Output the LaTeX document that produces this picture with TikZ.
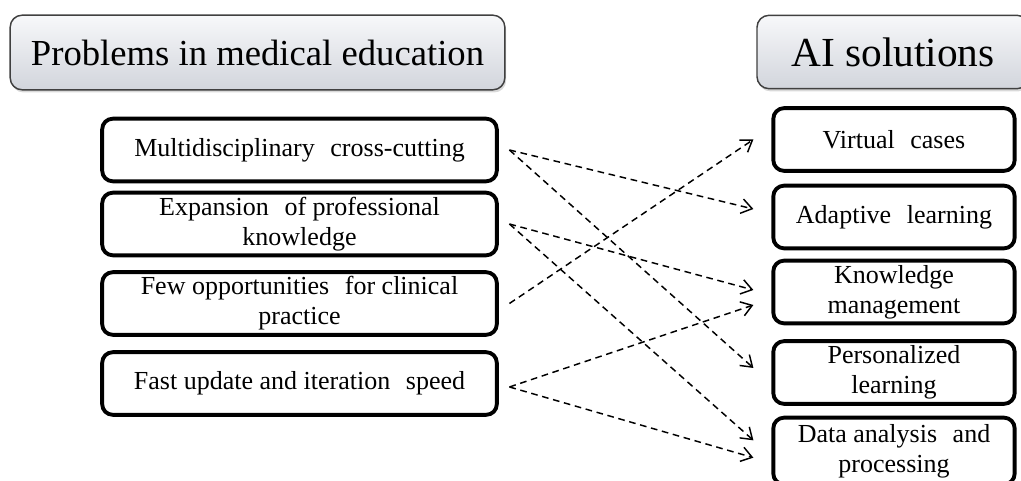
\documentclass[tikz,border=0pt]{standalone}
\usepackage{fontspec}
\setmainfont{Liberation Serif}
\usepackage{tikz}
\usetikzlibrary{arrows.meta}
\usetikzlibrary{shadows}

\definecolor{headtop}{RGB}{247,248,250}
\definecolor{headbot}{RGB}{210,213,220}
\newcommand{\gap}{\hspace{0.6em}}

\begin{document}
\begin{tikzpicture}[x=0.75pt, y=-0.75pt,
    header/.style={draw=black!75, line width=1.1pt, rounded corners=9pt,
        top color=headtop, bottom color=headbot,
        drop shadow={shadow xshift=1pt, shadow yshift=-2pt, opacity=0.3},
        font=\fontsize{27.5}{32}\selectfont, inner sep=0pt},
    probbox/.style={draw, line width=2.9pt, rounded corners=8pt, fill=white,
        minimum width=296pt, minimum height=47pt, align=center,
        font=\fontsize{19.5}{22.5}\selectfont, inner sep=2pt},
    solbox/.style={probbox, minimum width=181pt},
    link/.style={dash pattern=on 5pt off 3.5pt, line width=1.1pt,
        -{Straight Barb[length=8pt, width=11pt]}}]
    \useasboundingbox (0,0) rectangle (1021,481);
    % headers
    \node[header, minimum width=371pt, minimum height=56pt] (probhead) at (257.5,52.5) {Problems in medical education};
    \node[header, minimum width=204pt, minimum height=55pt, font=\fontsize{31}{36}\selectfont] (aihead) at (893,52) {AI solutions};
    % problems
    \node[probbox] (multi) at (299.5,150) {Multidisciplinary\gap cross-cutting};
    \node[probbox] (expan) at (299.5,224) {Expansion\gap of professional\\knowledge};
    \node[probbox] (clinic) at (299.5,303.5) {Few opportunities\gap for clinical\\practice};
    \node[probbox] (update) at (299.5,383.5) {Fast update and iteration\gap speed};
    % solutions
    \node[solbox] (virtual) at (894,139.5) {Virtual\gap cases};
    \node[solbox] (adapt) at (894,217) {Adaptive\gap learning};
    \node[solbox] (knowl) at (894,292) {Knowledge\\management};
    \node[solbox] (person) at (894,372.5) {Personalized\\learning};
    \node[solbox, minimum height=50pt] (data) at (894,451) {Data analysis\gap and\\processing};
    % links
    \draw[link] ([xshift=8pt]multi.east) -- ([xshift=-13.5pt, yshift=6pt]adapt.west);
    \draw[link] ([xshift=8pt]multi.east) -- ([xshift=-13.5pt, yshift=3.4pt]person.west);
    \draw[link] ([xshift=8pt]expan.east) -- ([xshift=-13.5pt, yshift=1.5pt]knowl.west);
    \draw[link] ([xshift=8pt]expan.east) -- ([xshift=-13.5pt, yshift=8pt]data.west);
    \draw[link] ([xshift=8pt]clinic.east) -- ([xshift=-13.5pt]virtual.west);
    \draw[link] ([xshift=8pt, yshift=-2.6pt]update.east) -- ([xshift=-13.5pt, yshift=-9.75pt]knowl.west);
    \draw[link] ([xshift=8pt, yshift=-2.6pt]update.east) -- ([xshift=-13.5pt, yshift=-5pt]data.west);
\end{tikzpicture}
\end{document}
